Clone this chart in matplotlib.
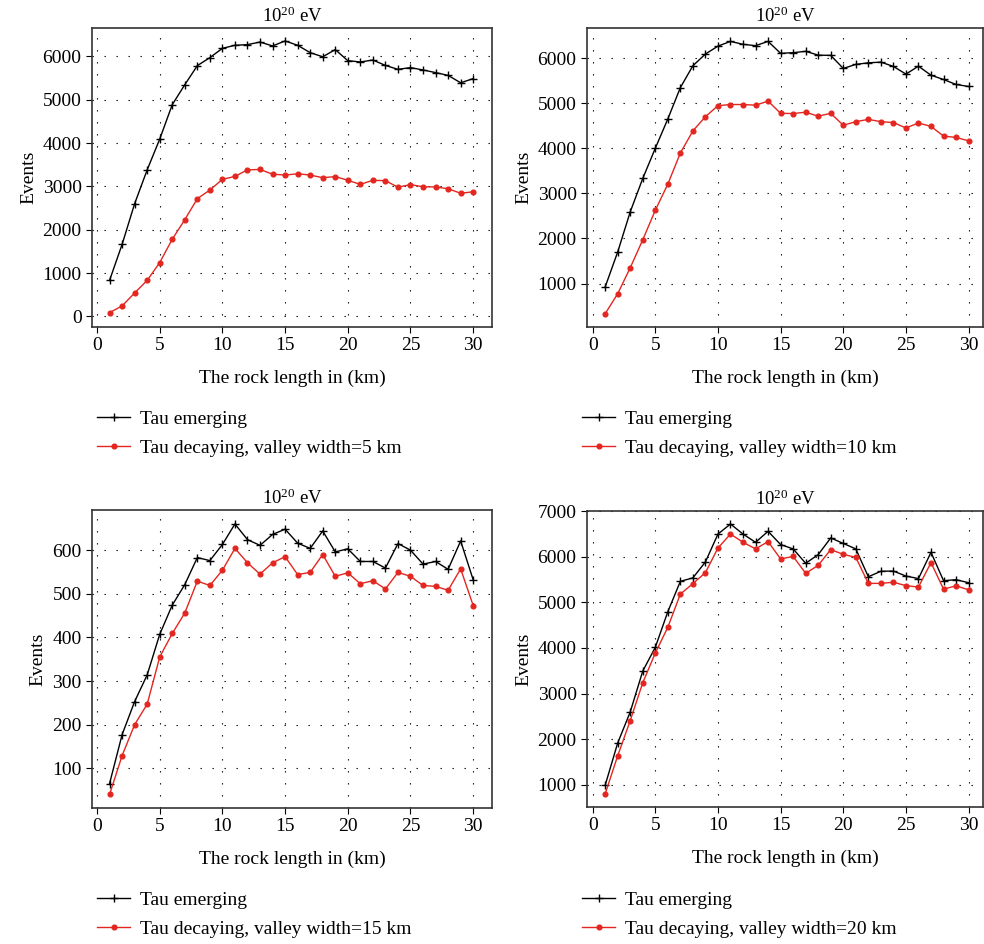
import matplotlib
matplotlib.use('Agg')
import matplotlib.pyplot as plt

plt.rcParams['font.family'] = ['Liberation Serif', 'DejaVu Serif']
plt.rcParams['mathtext.fontset'] = 'custom'
plt.rcParams['mathtext.rm'] = 'Liberation Serif'
plt.rcParams['mathtext.it'] = 'Liberation Serif:italic'
plt.rcParams['font.size'] = 14

# Rock length (km)
rock_km = list(range(1, 31))

# Panel 1: valley width 5 km
emerg_5 = [830, 1660, 2600, 3380, 4090, 4885, 5345, 5785, 5970, 6185,
           6255, 6270, 6330, 6240, 6355, 6255, 6085, 5990, 6155, 5900,
           5870, 5915, 5790, 5700, 5740, 5685, 5625, 5560, 5390, 5485]
decay_5 = [85, 240, 540, 830, 1240, 1780, 2230, 2715, 2915, 3160,
           3230, 3380, 3390, 3280, 3260, 3290, 3260, 3200, 3225, 3140,
           3045, 3140, 3130, 2980, 3040, 2990, 2985, 2945, 2840, 2875]

# Panel 2: valley width 10 km
emerg_10 = [925, 1700, 2590, 3330, 4000, 4650, 5345, 5830, 6090, 6265,
            6370, 6305, 6275, 6370, 6105, 6120, 6150, 6065, 6060, 5770,
            5860, 5895, 5910, 5815, 5645, 5820, 5620, 5525, 5415, 5370]
decay_10 = [330, 775, 1350, 1970, 2625, 3205, 3895, 4385, 4700, 4945,
            4970, 4970, 4955, 5045, 4775, 4770, 4800, 4710, 4775, 4510,
            4590, 4640, 4590, 4570, 4450, 4560, 4485, 4270, 4240, 4165]

# Panel 3: valley width 15 km
emerg_15 = [65, 177, 253, 314, 407, 474, 521, 583, 576, 613,
            660, 624, 611, 636, 648, 616, 604, 644, 596, 603,
            574, 574, 559, 615, 600, 568, 574, 556, 621, 532]
decay_15 = [40, 129, 200, 247, 355, 409, 456, 529, 519, 554,
            604, 571, 545, 571, 585, 544, 549, 590, 540, 548,
            523, 530, 511, 549, 540, 519, 517, 508, 557, 473]

# Panel 4: valley width 20 km
emerg_20 = [995, 1920, 2600, 3495, 4015, 4795, 5460, 5535, 5885, 6495,
            6715, 6495, 6315, 6555, 6265, 6170, 5855, 6045, 6410, 6290,
            6170, 5560, 5680, 5685, 5575, 5520, 6095, 5475, 5495, 5430]
decay_20 = [805, 1640, 2410, 3240, 3890, 4455, 5180, 5410, 5650, 6190,
            6495, 6315, 6170, 6330, 5950, 6005, 5635, 5810, 6155, 6050,
            5985, 5415, 5415, 5440, 5365, 5335, 5870, 5290, 5360, 5275]

widths = [5, 10, 15, 20]
emerging = [emerg_5, emerg_10, emerg_15, emerg_20]
decaying = [decay_5, decay_10, decay_15, decay_20]
yticks = [list(range(0, 7000, 1000)), list(range(1000, 7000, 1000)),
          list(range(100, 700, 100)), list(range(1000, 8000, 1000))]
ylims = [(-246, 6654), (36, 6667), (9, 692), (518, 7000)]
xlims = [(-0.4, 31.5), (-0.45, 31.15), (-0.4, 31.5), (-0.45, 31.15)]

W, H = 984, 944
# axes boxes in pixels: left, top, right, bottom
boxes = [(92, 28, 492, 327), (587, 28, 983, 327),
         (92, 510, 492, 808), (587, 511, 983, 807)]
legend_pos = [(97, 410), (582, 410), (97, 891), (582, 891)]

red = '#e3261f'

fig = plt.figure(figsize=(W / 100, H / 100), dpi=100)

for i in range(4):
    l, t, r, b = boxes[i]
    ax = fig.add_axes([l / W, 1 - b / H, (r - l) / W, (b - t) / H])
    ax.plot(rock_km, emerging[i], '-', color='black', marker='+',
            markersize=6, markeredgewidth=1.0, linewidth=1.0,
            label='Tau emerging')
    ax.plot(rock_km, decaying[i], '-', color=red, marker='o',
            markersize=3.4, linewidth=1.0,
            label='Tau decaying, valley width=%d km' % widths[i])
    ax.set_xlim(*xlims[i])
    ax.set_ylim(*ylims[i])
    ax.set_xticks(range(0, 31, 5))
    ax.set_yticks(yticks[i])
    ax.grid(True, color='black', linestyle=(0, (1.2, 9.6)), linewidth=0.8)
    ax.tick_params(direction='out', length=4, width=0.8, labelsize=14)
    for s in ax.spines.values():
        s.set_color('#333333')
        s.set_linewidth(1.2)
    ax.set_title(r'$10^{20}$ eV', fontsize=13.5, pad=4)
    ax.set_xlabel('The rock length in (km)', fontsize=14, labelpad=11)
    ax.set_ylabel('Events', fontsize=14)
    lx, ly = legend_pos[i]
    fig.legend(*ax.get_legend_handles_labels(), loc='upper left',
               bbox_to_anchor=(lx / W, 1 - ly / H), frameon=False,
               borderpad=0, borderaxespad=0, handlelength=1.7,
               handletextpad=0.5, labelspacing=0.6, fontsize=14)

plt.savefig('out.png', dpi=100)
